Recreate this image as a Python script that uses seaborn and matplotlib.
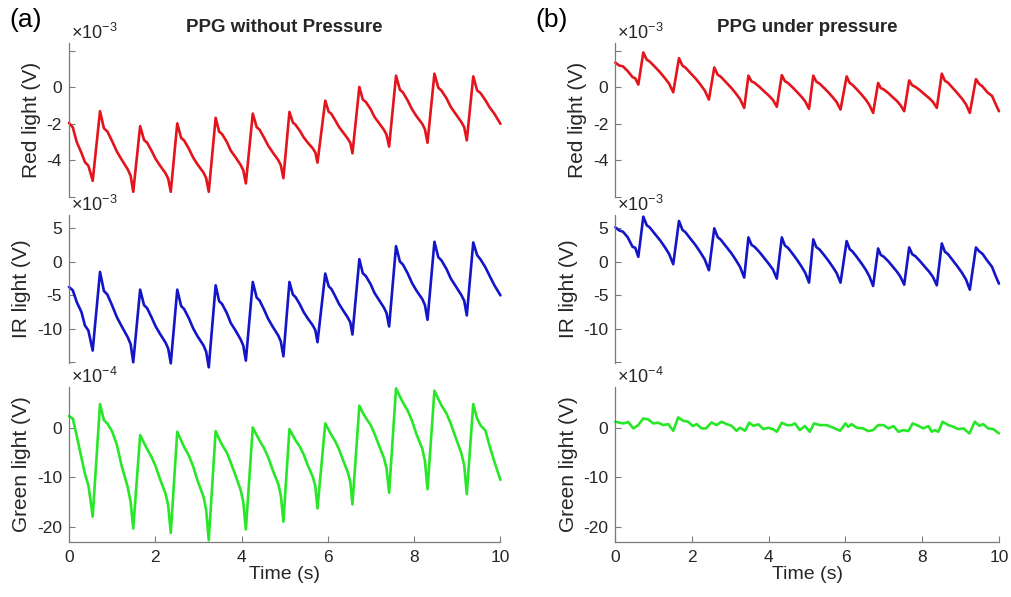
import numpy as np
import matplotlib
matplotlib.use("Agg")
import matplotlib.pyplot as plt
import seaborn as sns

sns.set_style("white")
plt.rcParams['font.family'] = ['Liberation Sans', 'DejaVu Sans']
plt.rcParams['mathtext.fontset'] = 'custom'
plt.rcParams['mathtext.rm'] = 'Liberation Sans'

# ---- data (time in s, voltage in units of the axis exponent) ----
# left column (PPG without pressure): red / IR / green share one time base
t_left = [0.00, 0.09, 0.18, 0.29, 0.37, 0.45, 0.50, 0.55,
          0.72, 0.81, 0.89, 1.00, 1.11, 1.22, 1.36, 1.43, 1.49,
          1.65, 1.74, 1.81, 1.91, 2.01, 2.11, 2.24, 2.30, 2.36,
          2.51, 2.60, 2.67, 2.78, 2.88, 2.98, 3.12, 3.18, 3.24,
          3.40, 3.48, 3.55, 3.66, 3.75, 3.86, 3.98, 4.04, 4.10,
          4.26, 4.35, 4.42, 4.52, 4.62, 4.72, 4.85, 4.91, 4.97,
          5.11, 5.19, 5.25, 5.35, 5.44, 5.53, 5.65, 5.71, 5.76,
          5.94, 6.02, 6.08, 6.17, 6.26, 6.35, 6.46, 6.52, 6.57,
          6.73, 6.81, 6.88, 6.99, 7.08, 7.18, 7.30, 7.36, 7.42,
          7.58, 7.67, 7.74, 7.85, 7.95, 8.05, 8.19, 8.25, 8.31,
          8.47, 8.56, 8.63, 8.75, 8.85, 8.96, 9.09, 9.16, 9.22,
          9.37, 9.46, 9.54, 9.65, 9.75, 9.86, 10.00]

red_left = [-1.95, -2.20, -3.00, -3.60, -4.10, -4.30, -4.70, -5.13,
            -1.31, -2.24, -2.42, -2.95, -3.52, -3.96, -4.49, -4.85, -5.73,
            -2.13, -2.89, -3.03, -3.46, -3.93, -4.29, -4.72, -5.01, -5.73,
            -1.98, -2.77, -2.92, -3.37, -3.86, -4.23, -4.68, -4.98, -5.73,
            -1.67, -2.43, -2.57, -3.00, -3.47, -3.83, -4.26, -4.55, -5.27,
            -1.44, -2.18, -2.33, -2.75, -3.21, -3.56, -3.99, -4.27, -4.98,
            -1.35, -1.93, -2.05, -2.38, -2.74, -3.02, -3.35, -3.57, -4.13,
            -0.73, -1.34, -1.45, -1.80, -2.18, -2.46, -2.81, -3.04, -3.62,
            0.02, -0.67, -0.80, -1.19, -1.62, -1.94, -2.33, -2.60, -3.25,
            0.64, -0.13, -0.28, -0.72, -1.20, -1.57, -2.01, -2.30, -3.04,
            0.75, -0.02, -0.17, -0.60, -1.08, -1.45, -1.89, -2.18, -2.91,
            0.60, -0.17, -0.32, -0.70, -1.10, -1.45, -2.00]

ir_left = [-3.75, -4.25, -6.00, -7.50, -9.50, -10.25, -11.75, -13.25,
           -1.50, -4.34, -4.88, -6.50, -8.25, -9.60, -11.22, -12.30, -15.00,
           -4.15, -6.46, -6.90, -8.22, -9.65, -10.75, -12.07, -12.95, -15.15,
           -4.15, -6.59, -7.05, -8.44, -9.95, -11.11, -12.50, -13.43, -15.75,
           -3.50, -5.86, -6.31, -7.66, -9.13, -10.25, -11.60, -12.50, -14.75,
           -3.00, -5.33, -5.78, -7.11, -8.55, -9.66, -10.99, -11.88, -14.10,
           -3.00, -4.89, -5.25, -6.33, -7.50, -8.40, -9.48, -10.20, -12.00,
           -1.75, -3.66, -4.03, -5.12, -6.30, -7.21, -8.30, -9.03, -10.85,
           0.40, -1.71, -2.11, -3.32, -4.63, -5.63, -6.84, -7.64, -9.65,
           2.35, 0.04, -0.40, -1.72, -3.15, -4.25, -5.57, -6.45, -8.65,
           3.00, 0.69, 0.25, -1.07, -2.50, -3.60, -4.92, -5.80, -8.00,
           2.90, 1.00, 0.35, -0.80, -2.10, -3.50, -5.00]

green_left = [2.52, 2.00, -1.50, -6.00, -9.20, -11.60, -14.60, -18.00,
              4.97, 1.70, 1.00, -0.60, -3.30, -7.60, -11.90, -15.00, -20.40,
              -1.36, -2.96, -4.15, -5.75, -7.74, -10.33, -13.32, -15.72, -21.30,
              -0.68, -2.45, -3.78, -5.55, -7.76, -10.63, -13.95, -16.61, -22.80,
              -0.54, -2.14, -3.35, -4.95, -6.96, -9.57, -12.58, -14.98, -20.60,
              0.20, -1.34, -2.49, -4.02, -5.94, -8.44, -11.32, -13.62, -19.00,
              -0.14, -1.43, -2.40, -3.70, -5.31, -7.41, -9.84, -11.78, -16.30,
              1.02, -0.30, -1.29, -2.61, -4.27, -6.41, -8.89, -10.87, -15.50,
              4.63, 3.21, 2.15, 0.73, -1.04, -3.35, -6.01, -8.14, -13.10,
              8.16, 6.52, 5.28, 3.64, 1.58, -1.09, -4.18, -6.64, -12.40,
              7.69, 6.00, 4.74, 3.05, 0.94, -1.80, -4.96, -7.49, -13.40,
              4.97, 2.00, 0.60, -0.40, -3.60, -6.80, -10.50]

# right column (PPG under pressure): red / IR share one time base
t_right = [0.00, 0.10, 0.20, 0.32, 0.45, 0.52, 0.60,
           0.73, 0.82, 0.90, 1.03, 1.17, 1.29, 1.40, 1.51,
           1.66, 1.75, 1.83, 1.96, 2.10, 2.22, 2.33, 2.44,
           2.58, 2.67, 2.75, 2.88, 3.02, 3.14, 3.25, 3.36,
           3.47, 3.55, 3.63, 3.76, 3.88, 4.00, 4.11, 4.21,
           4.34, 4.42, 4.50, 4.62, 4.74, 4.85, 4.95, 5.05,
           5.16, 5.24, 5.32, 5.44, 5.56, 5.67, 5.77, 5.87,
           6.03, 6.11, 6.18, 6.30, 6.42, 6.53, 6.62, 6.72,
           6.85, 6.92, 7.00, 7.12, 7.23, 7.34, 7.43, 7.53,
           7.66, 7.74, 7.82, 7.94, 8.06, 8.18, 8.28, 8.38,
           8.51, 8.59, 8.67, 8.79, 8.92, 9.04, 9.14, 9.24,
           9.40, 9.48, 9.57, 9.70, 9.82, 9.92, 10.00]

red_right = [1.36, 1.20, 1.15, 0.90, 0.56, 0.50, 0.15,
             1.91, 1.52, 1.41, 1.13, 0.82, 0.51, 0.21, -0.27,
             1.60, 1.19, 1.08, 0.78, 0.47, 0.15, -0.17, -0.67,
             1.09, 0.69, 0.58, 0.29, -0.02, -0.33, -0.64, -1.13,
             0.64, 0.33, 0.25, 0.02, -0.22, -0.45, -0.69, -1.07,
             0.67, 0.34, 0.24, 0.00, -0.26, -0.51, -0.77, -1.18,
             0.64, 0.31, 0.21, -0.03, -0.29, -0.55, -0.81, -1.22,
             0.60, 0.24, 0.14, -0.12, -0.40, -0.68, -0.96, -1.40,
             0.24, -0.04, -0.12, -0.32, -0.54, -0.75, -0.97, -1.31,
             0.38, 0.11, 0.03, -0.16, -0.38, -0.59, -0.80, -1.13,
             0.75, 0.36, 0.26, -0.02, -0.33, -0.63, -0.93, -1.40,
             0.45, 0.20, 0.05, -0.28, -0.47, -0.95, -1.31]

ir_right = [5.15, 4.70, 4.50, 3.70, 2.25, 2.10, 0.75,
            6.75, 5.47, 5.12, 4.19, 3.20, 2.21, 1.21, -0.35,
            6.10, 4.78, 4.41, 3.45, 2.43, 1.40, 0.37, -1.25,
            5.00, 3.68, 3.31, 2.35, 1.33, 0.30, -0.73, -2.35,
            3.65, 2.54, 2.24, 1.44, 0.58, -0.29, -1.15, -2.50,
            3.65, 2.44, 2.10, 1.22, 0.28, -0.67, -1.62, -3.10,
            3.35, 2.19, 1.87, 1.03, 0.13, -0.78, -1.68, -3.10,
            3.10, 1.89, 1.56, 0.69, -0.25, -1.19, -2.13, -3.60,
            2.00, 1.03, 0.76, 0.06, -0.70, -1.46, -2.21, -3.40,
            2.15, 1.13, 0.85, 0.12, -0.68, -1.47, -2.26, -3.50,
            2.75, 1.51, 1.16, 0.27, -0.70, -1.67, -2.63, -4.15,
            2.15, 1.60, 1.20, 0.15, -0.75, -2.20, -3.25]

t_green_right = [0.00, 0.21, 0.34, 0.47, 0.60, 0.73, 0.86, 0.99, 1.12, 1.25, 1.38, 1.51,
                 1.64, 1.77, 1.90, 2.02, 2.12, 2.25, 2.36, 2.51, 2.64, 2.77, 2.90, 3.03,
                 3.16, 3.25, 3.38, 3.49, 3.60, 3.73, 3.86, 3.99, 4.12, 4.21, 4.34, 4.47,
                 4.60, 4.68, 4.81, 4.94, 5.07, 5.18, 5.33, 5.51, 5.68, 5.86, 6.00, 6.07,
                 6.16, 6.29, 6.46, 6.59, 6.72, 6.85, 6.99, 7.12, 7.25, 7.38, 7.51, 7.64,
                 7.75, 7.90, 8.03, 8.16, 8.25, 8.33, 8.42, 8.53, 8.68, 8.81, 8.94, 9.07,
                 9.23, 9.37, 9.49, 9.59, 9.72, 9.85, 10.00]
green_right = [1.36, 1.02, 1.29, 0.00, 0.68, 2.04, 1.84, 1.02, 1.16, 0.68, 0.88, -0.48,
               2.24, 1.56, 1.36, 0.48, 0.88, 0.00, 0.00, 1.22, 0.68, 1.36, 0.88, 0.54,
               -0.48, 0.14, -0.48, 1.16, 0.54, 0.82, -0.14, 0.14, -0.20, -0.68, 1.16, 0.68,
               0.68, 1.02, -0.34, 0.48, -0.68, 1.02, 0.68, 0.68, 0.14, -0.48, 1.02, 0.34,
               0.88, 0.14, 0.00, -0.54, -0.34, 0.68, 0.68, 0.00, 0.48, -0.68, -0.34, -0.54,
               1.02, 0.54, 0.00, 0.48, -0.68, -0.34, -0.68, 1.36, 0.68, 0.34, -0.14, 0.00,
               -1.02, 1.36, 0.54, 0.88, 0.00, -0.14, -1.02]

ylabels = ['Red light (V)', 'IR light (V)', 'Green light (V)']
exponents = [r'$\times10^{-3}$', r'$\times10^{-3}$', r'$\times10^{-4}$']
ylims = [(-6.0, 2.45), (-15.1, 7.0), (-23.1, 8.5)]
yticks = [[-6, -4, -2, 0, 2], [-15, -10, -5, 0, 5], [-20, -10, 0]]
yticklabels = [['', '-4', '-2', '0', ''], ['', '-10', '-5', '0', '5'], ['-20', '-10', '0']]
colors = ['#e3141c', '#1414c8', '#28e628']

# ---- layout (figure fractions) ----
fig = plt.figure(figsize=(10.11, 5.97), dpi=100)
col_x = [(0.0682, 0.4268), (0.6086, 0.3795)]
row_y = [(0.6705, 0.258), (0.392, 0.2479), (0.0926, 0.2596)]

series = [
    [(t_left, red_left), (t_left, ir_left), (t_left, green_left)],
    [(t_right, red_right), (t_right, ir_right), (t_green_right, green_right)],
]
titles = ['PPG without Pressure', 'PPG under pressure']
gray = '#7a7a7a'
txt = '#262626'

for c in range(2):
    for r in range(3):
        ax = fig.add_axes([col_x[c][0], row_y[r][0], col_x[c][1], row_y[r][1]])
        t, v = series[c][r]
        sns.lineplot(x=t, y=v, ax=ax, color=colors[r], linewidth=1.9,
                     estimator=None, sort=False, clip_on=False)
        ax.set_xlim(0, 10)
        ax.set_ylim(*ylims[r])
        ax.set_yticks(yticks[r])
        ax.set_yticklabels(yticklabels[r])
        ax.set_ylabel(ylabels[r], fontsize=15, color=txt, labelpad=4)
        for s in ['top', 'right']:
            ax.spines[s].set_visible(False)
        ax.spines['left'].set_color(gray)
        ax.spines['left'].set_linewidth(0.9)
        ax.tick_params(axis='y', direction='in', length=4, color=gray,
                       labelsize=12.5, labelcolor=txt, left=True, pad=5)
        ax.text(0.005, 1.0, exponents[r], transform=ax.transAxes, fontsize=13,
                color=txt, ha='left', va='bottom')
        if r < 2:
            ax.spines['bottom'].set_visible(False)
            ax.set_xticks([])
        else:
            ax.spines['bottom'].set_color(gray)
            ax.spines['bottom'].set_linewidth(0.9)
            ax.set_xticks([0, 2, 4, 6, 8, 10])
            ax.tick_params(axis='x', direction='in', length=4, color=gray,
                           labelsize=12.5, labelcolor=txt, bottom=True, pad=6)
            ax.set_xlabel('Time (s)', fontsize=14, color=txt, labelpad=1)
        if r == 0:
            ax.set_title(titles[c], fontsize=13.5, fontweight='bold', color=txt, pad=8)

fig.text(26 / 1011, 1 - 20 / 597, '(a)', fontsize=19, ha='center', va='center', color='black')
fig.text(552 / 1011, 1 - 20 / 597, '(b)', fontsize=19, ha='center', va='center', color='black')

fig.savefig('out.png', dpi=100)
